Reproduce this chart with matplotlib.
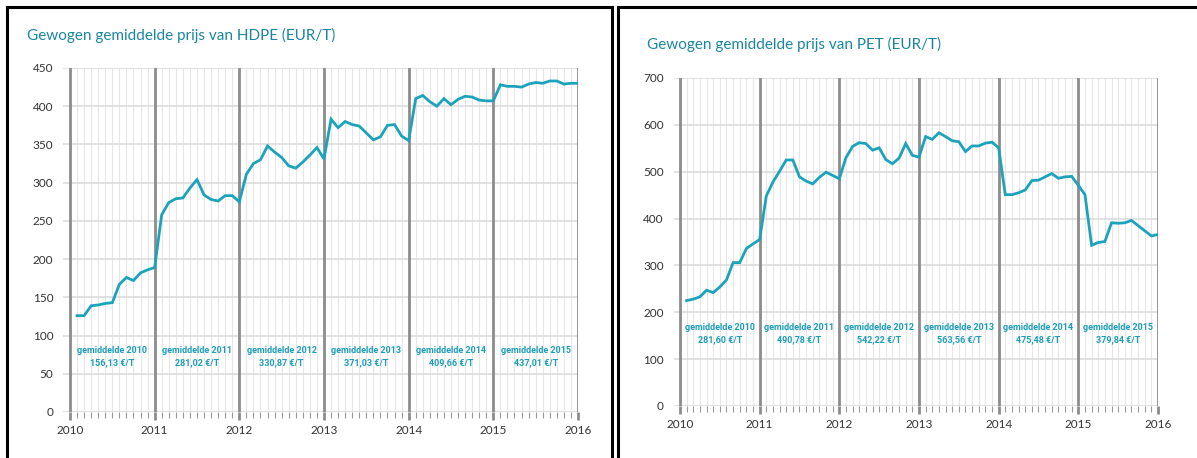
import numpy as np
import matplotlib
matplotlib.use("Agg")
import matplotlib.pyplot as plt
from matplotlib.lines import Line2D

# maandelijkse gewogen gemiddelde prijzen (EUR/T), jan 2010 - dec 2015
hdpe = [126, 126, 139, 140, 142, 143, 167, 176, 172, 182, 186, 189,
        258, 274, 279, 280, 293, 304, 284, 278, 276, 283, 283, 275,
        311, 325, 330, 348, 340, 333, 322, 319, 327, 336, 346, 331,
        383, 372, 380, 376, 374, 365, 356, 360, 375, 376, 361, 355,
        410, 414, 406, 400, 410, 402, 409, 413, 412, 408, 407, 407,
        428, 426, 426, 425, 429, 431, 430, 433, 433, 429, 430, 430]

pet = [225, 228, 233, 247, 242, 254, 269, 306, 306, 336, 346, 355,
       448, 478, 501, 525, 525, 489, 480, 474, 488, 499, 492, 485,
       530, 554, 562, 560, 546, 551, 526, 517, 529, 560, 535, 531,
       575, 569, 583, 575, 566, 564, 543, 555, 555, 561, 563, 551,
       451, 451, 455, 461, 481, 482, 489, 496, 486, 489, 490, 471,
       451, 343, 349, 351, 391, 390, 391, 396, 385, 374, 363, 366]

jaren = [2010, 2011, 2012, 2013, 2014, 2015]
gem_hdpe = ["156,13", "281,02", "330,87", "371,03", "409,66", "437,01"]
gem_pet = ["281,60", "490,78", "542,22", "563,56", "475,48", "379,84"]

LIJN = "#1ba3bb"
TITEL = "#1b86a0"
LABEL = "#1c9db8"

W, H = 1197, 458
fig = plt.figure(figsize=(W / 100, H / 100), dpi=100)
fig.patch.set_facecolor("white")


def fx(px):
    return px / W


def fy(py):
    return 1 - py / H


def paneel(rect, waarden, gemiddelden, ymax, ystap, titel, titel_xy, label_y):
    ax = fig.add_axes(rect)
    x = 2010 + np.arange(1, 73) / 12
    ax.set_xlim(2009.92, 2016.0)
    ax.set_ylim(0, ymax)

    # lichte maandlijnen en horizontale rasterlijnen
    for m in np.arange(2010, 2016, 1 / 12):
        ax.axvline(m, color="#e6e6e6", lw=0.8, zorder=1)
    for yv in range(0, ymax + 1, ystap):
        ax.axhline(yv, color="#dadada", lw=1.1, zorder=1)
    # donkere jaarlijnen
    for j in range(2010, 2017):
        ax.axvline(j, color="#8c8c8c", lw=2.0, zorder=2)

    ax.plot(x, waarden, color=LIJN, lw=2.0, zorder=3, solid_joinstyle="miter")

    for j, g in zip(jaren, gemiddelden):
        ax.text(j + 0.5, label_y, "gemiddelde %d\n%s €/T" % (j, g),
                ha="center", va="center", color=LABEL, fontsize=6.5,
                fontweight="bold", family="Roboto",
                linespacing=1.45, zorder=4)

    ax.set_yticks(range(0, ymax + 1, ystap))
    ax.set_xticks(range(2010, 2017))
    ax.set_xticks(np.arange(2010, 2016, 1 / 12), minor=True)
    ax.tick_params(axis="y", length=0, pad=7, labelsize=8.5, labelcolor="#333333")
    ax.tick_params(axis="x", which="major", length=6, width=2, color="#8c8c8c",
                   labelsize=8.5, labelcolor="#333333", pad=3)
    ax.tick_params(axis="x", which="minor", length=4, width=0.8, color="#9a9a9a")
    for s in ax.spines.values():
        s.set_visible(False)
    for t in ax.get_xticklabels() + ax.get_yticklabels():
        t.set_family("Lato")

    fig.text(fx(titel_xy[0]), fy(titel_xy[1]), titel, color=TITEL, fontsize=11,
             family="Lato", ha="left", va="center")
    return ax


paneel([fx(63.2), fy(412), fx(578 - 63.2), 344 / H], hdpe, gem_hdpe, 450, 50,
       "Gewogen gemiddelde prijs van HDPE (EUR/T)", (27, 35), 72)
paneel([fx(673.6), fy(406), fx(1158 - 673.6), 328 / H], pet, gem_pet, 700, 100,
       "Gewogen gemiddelde prijs van PET (EUR/T)", (647, 44), 154)

# kaders rond de twee panelen
for xs, ys in [((7, 7), (458, 7)), ((7, 612), (7, 7)), ((612, 612), (7, 458)),
               ((618, 618), (458, 7)), ((618, 1197), (7, 7))]:
    fig.add_artist(Line2D([fx(v) for v in xs], [fy(v) for v in ys],
                          color="black", lw=2.2, transform=fig.transFigure))

fig.savefig("out.png", dpi=100)
